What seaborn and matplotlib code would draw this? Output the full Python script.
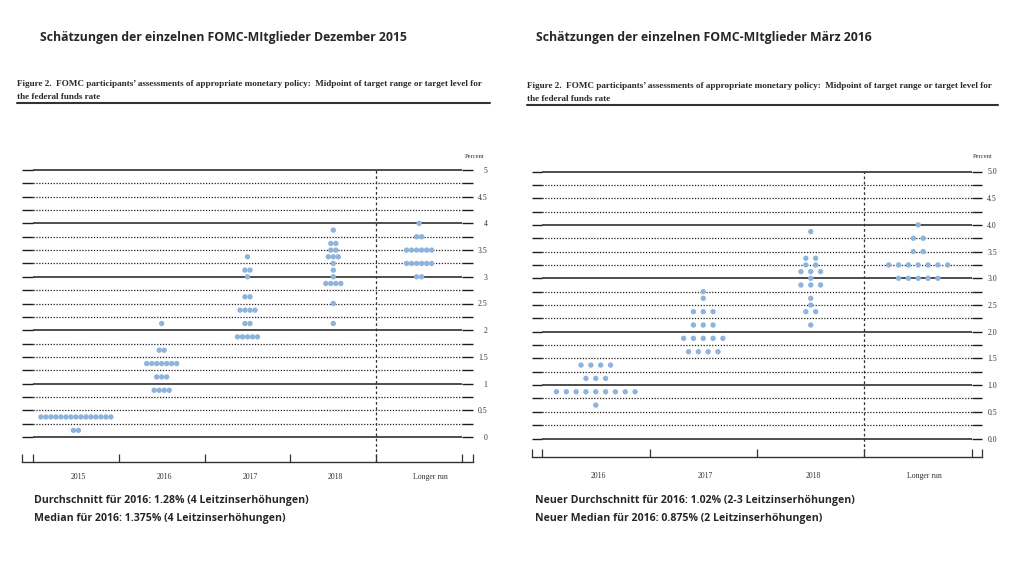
import numpy as np
import pandas as pd
import matplotlib
matplotlib.use("Agg")
import matplotlib.pyplot as plt
from matplotlib.lines import Line2D
from matplotlib.transforms import ScaledTranslation
import seaborn as sns

# ---------------- data ----------------
dec_categories = ["2015", "2016", "2017", "2018", "Longer run"]
dec_2015_rates = [0.375, 0.125]
dec_2015_counts = [15, 2]
dec_2016_rates = [2.125, 1.625, 1.375, 1.125, 0.875]
dec_2016_counts = [1, 2, 7, 3, 4]
dec_2017_rates = [3.375, 3.125, 3.0, 2.625, 2.375, 2.125, 1.875]
dec_2017_counts = [1, 2, 1, 2, 4, 2, 5]
dec_2018_rates = [3.875, 3.625, 3.5, 3.375, 3.25, 3.125, 3.0, 2.875, 2.5, 2.125]
dec_2018_counts = [1, 2, 2, 3, 1, 1, 1, 4, 1, 1]
dec_lr_rates = [4.0, 3.75, 3.5, 3.25, 3.0]
dec_lr_counts = [1, 2, 6, 6, 2]

mar_categories = ["2016", "2017", "2018", "Longer run"]
mar_2016_rates = [1.375, 1.125, 0.875, 0.625]
mar_2016_counts = [4, 3, 9, 1]
mar_2017_rates = [2.75, 2.625, 2.375, 2.125, 1.875, 1.625]
mar_2017_counts = [1, 1, 3, 3, 5, 4]
mar_2018_rates = [3.875, 3.375, 3.25, 3.125, 3.0, 2.875, 2.625, 2.5, 2.375, 2.125]
mar_2018_counts = [1, 2, 2, 3, 1, 3, 1, 1, 2, 1]
mar_lr_rates = [4.0, 3.75, 3.5, 3.25, 3.0]
mar_lr_counts = [1, 2, 2, 7, 5]

grid_levels = np.arange(0, 5.001, 0.25)

title_left = "Schätzungen der einzelnen FOMC-MItglieder Dezember 2015"
title_right = "Schätzungen der einzelnen FOMC-MItglieder März 2016"
caption1 = ("Figure 2.  FOMC participants\u2019 assessments of appropriate monetary policy:  "
            "Midpoint of target range or target level for")
caption2 = "the federal funds rate"
note_left = ["Durchschnitt für 2016: 1.28% (4 Leitzinserhöhungen)",
             "Median für 2016: 1.375% (4 Leitzinserhöhungen)"]
note_right = ["Neuer Durchschnitt für 2016: 1.02% (2-3 Leitzinserhöhungen)",
              "Neuer Median für 2016: 0.875% (2 Leitzinserhöhungen)"]

# ---------------- style ----------------
sns.set_theme(style="white")
plt.rcParams["font.family"] = ["DejaVu Sans"]
W, H = 1024, 585
DOT = "#8fb4dc"
INK = "#1e1e1e"
SERIF = ["Liberation Serif", "DejaVu Serif"]
SANS = ["Open Sans", "DejaVu Sans"]

fig = plt.figure(figsize=(W / 100, H / 100), dpi=100)
fig.patch.set_facecolor("white")


def build_frame(rate_lists, count_lists, spacing):
    xs, ys = [], []
    for ci, (rates, counts) in enumerate(zip(rate_lists, count_lists)):
        for r, c in zip(rates, counts):
            offs = (np.arange(c) - (c - 1) / 2.0) * spacing
            for o in offs:
                xs.append(ci + o)
                ys.append(r)
    return pd.DataFrame({"x": xs, "rate": ys})


def panel(cats, rate_lists, count_lists, x_outer, x_inner, y_top, y_bot,
          y_zero, y_five, spacing_px, dot_s, fmt, label_ha, label_pad, cat_pad,
          last_label_shift):
    n = len(cats)
    unit = (x_inner[1] - x_inner[0]) / n
    margin = (x_inner[0] - x_outer[0]) / unit
    ax = fig.add_axes([x_outer[0] / W, 1 - y_bot / H,
                       (x_outer[1] - x_outer[0]) / W, (y_bot - y_top) / H])
    ppu = (y_zero - y_five) / 5.0
    ylo = -(y_bot - y_zero) / ppu
    yhi = 5 + (y_five - y_top) / ppu
    ax.set_xlim(-0.5 - margin, n - 0.5 + margin)
    ax.set_ylim(ylo, yhi)
    ax.set_facecolor("white")

    for g in grid_levels:
        if abs(g - round(g)) < 1e-9:
            ax.hlines(g, -0.5, n - 0.5, colors=INK, lw=1.1, zorder=1)
        else:
            ax.hlines(g, -0.5, n - 0.5, colors=INK, lw=0.9,
                      linestyles=(0, (1, 1.3)), zorder=1)
    ax.vlines(n - 1.5, ylo, 5, colors="#333333", lw=0.9,
              linestyles=(0, (2.2, 2.0)), zorder=1)

    df = build_frame(rate_lists, count_lists, spacing_px / unit)
    sns.scatterplot(data=df, x="x", y="rate", ax=ax, color=DOT, s=dot_s,
                    edgecolor="none", linewidth=0, zorder=3, legend=False)
    ax.set_xlabel("")
    ax.set_ylabel("")

    # y ticks (short solid segments at both ends of every level)
    ax.set_yticks(grid_levels)
    ax.set_yticklabels([fmt(g) if abs(g * 2 - round(g * 2)) < 1e-9 else ""
                        for g in grid_levels])
    ax.tick_params(axis="y", which="major", direction="in", left=True, right=True,
                   labelleft=False, labelright=True, length=(x_inner[0] - x_outer[0]) * 0.72,
                   width=1.0, color=INK, labelsize=5.6, labelcolor="#333333", pad=label_pad)
    for lab in ax.get_yticklabels():
        lab.set_fontfamily(SERIF)
        lab.set_ha(label_ha)

    # x axis: boundaries as ticks, category names as minor tick labels
    lo, hi = ax.get_xlim()
    ax.set_xticks([lo] + list(np.arange(-0.5, n)) + [hi])
    ax.set_xticklabels([])
    ax.tick_params(axis="x", which="major", direction="in", bottom=True,
                   length=5.8, width=0.9, color="#333333")
    ax.set_xticks(np.arange(n), labels=cats, minor=True)
    ax.tick_params(axis="x", which="minor", length=0, pad=cat_pad,
                   labelsize=5.6, labelcolor="#333333")
    labs = ax.get_xticklabels(minor=True)
    for lab in labs:
        lab.set_fontfamily(SERIF)
        lab.set_transform(lab.get_transform() +
                          ScaledTranslation(2.5 / 100, 0, fig.dpi_scale_trans))
    labs[-1].set_transform(labs[-1].get_transform() +
                           ScaledTranslation(last_label_shift / 100, 0, fig.dpi_scale_trans))

    for side in ["top", "left", "right"]:
        ax.spines[side].set_visible(False)
    ax.spines["bottom"].set_color("#333333")
    ax.spines["bottom"].set_linewidth(1.0)
    return ax


panel(dec_categories,
      [dec_2015_rates, dec_2016_rates, dec_2017_rates, dec_2018_rates, dec_lr_rates],
      [dec_2015_counts, dec_2016_counts, dec_2017_counts, dec_2018_counts, dec_lr_counts],
      x_outer=(22, 473), x_inner=(33, 462), y_top=165, y_bot=462,
      y_zero=437, y_five=170, spacing_px=5.0, dot_s=15,
      fmt=lambda v: f"{v:g}", label_ha="right", label_pad=10.5, cat_pad=8,
      last_label_shift=9)

panel(mar_categories,
      [mar_2016_rates, mar_2017_rates, mar_2018_rates, mar_lr_rates],
      [mar_2016_counts, mar_2017_counts, mar_2018_counts, mar_lr_counts],
      x_outer=(532, 982), x_inner=(542, 971), y_top=166, y_bot=457,
      y_zero=438.5, y_five=171.5, spacing_px=9.8, dot_s=15,
      fmt=lambda v: f"{v:.1f}", label_ha="left", label_pad=3.8, cat_pad=11,
      last_label_shift=4)

# ---------------- texts ----------------
def ftext(x, y, s, **kw):
    fig.text(x / W, 1 - y / H, s, **kw)

ftext(40, 37, title_left, fontsize=8.8, fontweight="bold", family=SANS,
      color="#262626", va="center", ha="left")
ftext(536, 37, title_right, fontsize=8.8, fontweight="bold", family=SANS,
      color="#262626", va="center", ha="left")

for x0, x1, ybase in [(17, 490, 84), (527, 998, 86)]:
    ftext(x0, ybase, caption1, fontsize=6.6, fontweight="bold", family=SERIF,
          color="#2a2a2a", va="center", ha="left")
    ftext(x0, ybase + 13, caption2, fontsize=6.6, fontweight="bold", family=SERIF,
          color="#2a2a2a", va="center", ha="left")
    fig.add_artist(Line2D([x0 / W, x1 / W], [1 - (ybase + 19) / H] * 2,
                          color="#333333", lw=1.5))

ftext(485, 157, "Percent", fontsize=4.8, family=SERIF, color="#333333",
      va="center", ha="right")
ftext(993, 157, "Percent", fontsize=4.8, family=SERIF, color="#333333",
      va="center", ha="right")

for i, s in enumerate(note_left):
    ftext(34, 500 + 18 * i, s, fontsize=7.6, fontweight="bold", family=SANS,
          color="#262626", va="center", ha="left")
for i, s in enumerate(note_right):
    ftext(535, 501 + 17 * i, s, fontsize=7.6, fontweight="bold", family=SANS,
          color="#262626", va="center", ha="left")

fig.savefig("out.png", dpi=100, facecolor="white")
